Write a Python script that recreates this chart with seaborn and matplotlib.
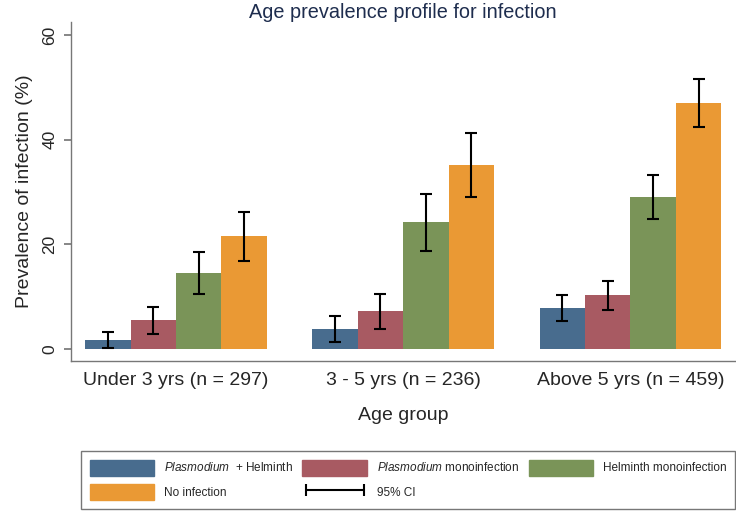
import pandas as pd
import numpy as np
import matplotlib
matplotlib.use('Agg')
import matplotlib.pyplot as plt
import seaborn as sns
from matplotlib.patches import Patch
from matplotlib.lines import Line2D

groups = ["Under 3 yrs (n = 297)", "3 - 5 yrs (n = 236)", "Above 5 yrs (n = 459)"]
types = ["Plasmodium + Helminth", "Plasmodium monoinfection", "Helminth monoinfection", "No infection"]
colors = ["#486c8e", "#a85a62", "#7a9458", "#ea9934"]

# prevalence (%) and 95% CI per infection type, one value per age group
coinf = [1.8, 3.8, 7.9]
coinf_lo = [0.25, 1.4, 5.4]
coinf_hi = [3.2, 6.3, 10.4]
plas = [5.5, 7.3, 10.3]
plas_lo = [2.8, 3.8, 7.5]
plas_hi = [8.0, 10.6, 13.0]
helm = [14.5, 24.2, 29.0]
helm_lo = [10.6, 18.7, 24.8]
helm_hi = [18.5, 29.7, 33.2]
noinf = [21.6, 35.2, 47.1]
noinf_lo = [16.9, 29.0, 42.4]
noinf_hi = [26.2, 41.3, 51.6]

vals = [coinf, plas, helm, noinf]
los = [coinf_lo, plas_lo, helm_lo, noinf_lo]
his = [coinf_hi, plas_hi, helm_hi, noinf_hi]

rows = []
for t, v, lo, hi in zip(types, vals, los, his):
    for g, a, b, c in zip(groups, v, lo, hi):
        rows.append({"group": g, "type": t, "prev": a, "lo": b, "hi": c})
df = pd.DataFrame(rows)

sns.set_theme(style="ticks")
plt.rcParams['font.family'] = ['Liberation Sans', 'DejaVu Sans']
plt.rcParams['mathtext.fontset'] = 'custom'
plt.rcParams['mathtext.it'] = 'Liberation Sans:italic'
plt.rcParams['mathtext.rm'] = 'Liberation Sans'

fig = plt.figure(figsize=(7.36, 5.16), dpi=100)
ax = fig.add_axes([0.0971, 0.3004, 0.9015, 0.657])

sns.barplot(data=df, x="group", y="prev", hue="type", hue_order=types,
            palette=colors, saturation=1, width=0.8, errorbar=None,
            legend=False, linewidth=0, ax=ax)

# error bars at the bar centres
for t, cont in zip(types, ax.containers):
    sub = df[df["type"] == t].set_index("group").loc[groups]
    xs = [b.get_x() + b.get_width() / 2 for b in cont]
    ys = sub["prev"].values
    err = np.vstack([ys - sub["lo"].values, sub["hi"].values - ys])
    ax.errorbar(xs, ys, yerr=err, fmt="none", ecolor="black",
                elinewidth=1.5, capsize=4, capthick=1.5, zorder=5)

ax.set_xlim(-0.46, 2.46)
ax.set_ylim(-2.3, 62.5)
ax.set_yticks([0, 20, 40, 60])
ax.tick_params(axis='y', labelrotation=90, labelsize=12.5, length=5,
               color="#777777", pad=5)
ax.tick_params(axis='x', length=0, labelsize=14, pad=8)
for lab in ax.get_yticklabels():
    lab.set_va('center')
sns.despine(ax=ax)
for s in ["left", "bottom"]:
    ax.spines[s].set_color("#777777")
    ax.spines[s].set_linewidth(1)

ax.set_xlabel("Age group", fontsize=14, labelpad=13)
ax.set_ylabel("Prevalence of infection (%)", fontsize=14, labelpad=7)
ax.set_title("Age prevalence profile for infection", fontsize=14.3,
             color="#1e2d4e", pad=3)

handles = [Patch(color=colors[0]), Patch(color=colors[3]),
           Patch(color=colors[1]),
           Line2D([], [], color="black", lw=1.5, marker="|", markersize=8,
                  markeredgewidth=1.5),
           Patch(color=colors[2])]
labels = [r"$\it{Plasmodium}\ $ + Helminth", "No infection",
          r"$\it{Plasmodium}$ monoinfection", "95% CI",
          "Helminth monoinfection"]
fig.legend(handles, labels, ncol=3, loc="upper left",
           bbox_to_anchor=(81 / 736, 1 - 451 / 516), borderaxespad=0,
           frameon=True, fancybox=False, edgecolor="#555555", fontsize=8.5,
           handlelength=5.5, handleheight=1.75, handletextpad=0.8,
           labelspacing=0.7, borderpad=0.72, columnspacing=0.8, numpoints=2)

fig.savefig("out.png", dpi=100)
